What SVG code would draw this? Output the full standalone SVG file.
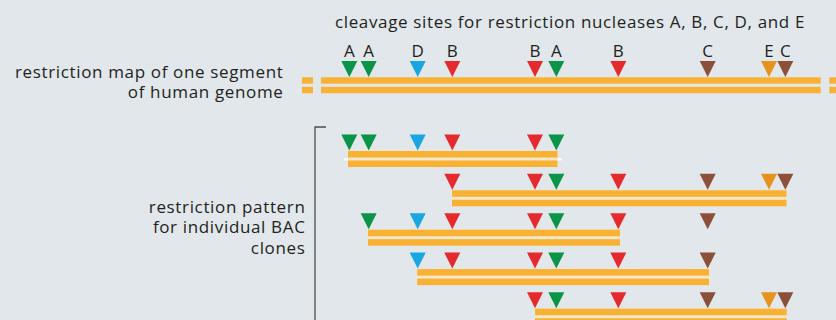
<svg xmlns="http://www.w3.org/2000/svg" xmlns:xlink="http://www.w3.org/1999/xlink" width="836" height="320" viewBox="0 0 836 320">
<style>
text{font-family:"Open Sans","Liberation Sans",sans-serif;fill:#231f20}
.lbl{font-size:17px;letter-spacing:0.65px}
.ltr{font-size:17px;text-anchor:middle}
.bar{fill:#f8b133}
.pale{fill:#f3e7cc}
.g{fill:#0a9447}.b{fill:#19a6e1}.r{fill:#e52a2e}.c{fill:#8b4f3a}.e{fill:#e8921e}
</style>
<defs>
<path id="t" d="M-8,0 H8 L0,16 Z"/>
</defs>
<rect width="836" height="320" fill="#e1e7ea"/>
<g id="title"><text class="lbl" x="570" y="27.5" text-anchor="middle">cleavage sites for restriction nucleases A, B, C, D, and E</text></g>
<g id="label-map"><text class="lbl" x="283.5" y="77.5" text-anchor="end">restriction map of one segment</text><text class="lbl" x="283.5" y="97.5" text-anchor="end">of human genome</text></g>
<g id="label-clones"><text class="lbl" x="305.5" y="212.5" text-anchor="end">restriction pattern</text><text class="lbl" x="305.5" y="233" text-anchor="end">for individual BAC</text><text class="lbl" x="305.5" y="253.5" text-anchor="end">clones</text></g>
<g id="map">
<g id="map-letters">
<text class="ltr" x="349.3" y="57">A</text><text class="ltr" x="368.7" y="57">A</text><text class="ltr" x="417.7" y="57">D</text><text class="ltr" x="452.3" y="57">B</text><text class="ltr" x="535" y="57">B</text><text class="ltr" x="556.3" y="57">A</text><text class="ltr" x="618.3" y="57">B</text><text class="ltr" x="707.7" y="57">C</text><text class="ltr" x="769" y="57">E</text><text class="ltr" x="785.3" y="57">C</text>
</g>
<rect class="bar" x="302" y="77.3" width="11" height="6.4"/><rect class="bar" x="302" y="86.8" width="11" height="6.4"/>
<rect class="bar" x="321" y="77.3" width="499.7" height="6.4"/><rect class="bar" x="321" y="86.8" width="499.7" height="6.4"/>
<rect class="bar" x="829.3" y="77.3" width="8" height="6.4"/><rect class="bar" x="829.3" y="86.8" width="8" height="6.4"/>
<g transform="translate(0,61)">
<use href="#t" x="349.3" class="g"/><use href="#t" x="368.7" class="g"/><use href="#t" x="417.7" class="b"/><use href="#t" x="452.3" class="r"/><use href="#t" x="535" class="r"/><use href="#t" x="556.3" class="g"/><use href="#t" x="618.3" class="r"/><use href="#t" x="707.7" class="c"/><use href="#t" x="769" class="e"/><use href="#t" x="785.3" class="c"/>
</g>
</g>
<g id="connectors"><path d="M326,127 H315 V320" fill="none" stroke="#4d4d4d" stroke-width="1.3"/></g>
<g id="clone1" transform="translate(0,134.5)">
<rect fill="#ffffff" x="344" y="23.7" width="218" height="2.2"/>
<rect class="pale" x="347.5" y="16" width="210.5" height="16.5"/>
<rect class="bar" x="348" y="16.5" width="209.5" height="6.5"/><rect class="bar" x="348" y="26" width="209.5" height="6.5"/>
<use href="#t" x="349.3" class="g"/><use href="#t" x="368.7" class="g"/><use href="#t" x="417.7" class="b"/><use href="#t" x="452.3" class="r"/><use href="#t" x="535" class="r"/><use href="#t" x="556.3" class="g"/>
</g>
<g id="clone2" transform="translate(0,173.8)">
<rect class="pale" x="451.5" y="16" width="335.5" height="16.5"/>
<rect class="bar" x="452" y="16.5" width="334.5" height="6.5"/><rect class="bar" x="452" y="26" width="334.5" height="6.5"/>
<use href="#t" x="452.3" class="r"/><use href="#t" x="535" class="r"/><use href="#t" x="556.3" class="g"/><use href="#t" x="618.3" class="r"/><use href="#t" x="707.7" class="c"/><use href="#t" x="769" class="e"/><use href="#t" x="785.3" class="c"/>
</g>
<g id="clone3" transform="translate(0,213.2)">
<rect class="pale" x="367.5" y="16" width="253" height="16.5"/>
<rect class="bar" x="368" y="16.5" width="252" height="6.5"/><rect class="bar" x="368" y="26" width="252" height="6.5"/>
<use href="#t" x="368.7" class="g"/><use href="#t" x="417.7" class="b"/><use href="#t" x="452.3" class="r"/><use href="#t" x="535" class="r"/><use href="#t" x="556.3" class="g"/><use href="#t" x="618.3" class="r"/><use href="#t" x="707.7" class="c"/>
</g>
<g id="clone4" transform="translate(0,252.6)">
<rect class="pale" x="416.8" y="16" width="292.7" height="16.5"/>
<rect class="bar" x="417.3" y="16.5" width="291.7" height="6.5"/><rect class="bar" x="417.3" y="26" width="291.7" height="6.5"/>
<use href="#t" x="417.7" class="b"/><use href="#t" x="452.3" class="r"/><use href="#t" x="535" class="r"/><use href="#t" x="556.3" class="g"/><use href="#t" x="618.3" class="r"/><use href="#t" x="707.7" class="c"/>
</g>
<g id="clone5" transform="translate(0,292.2)">
<rect class="pale" x="534.5" y="16" width="252.5" height="16.5"/>
<rect class="bar" x="535" y="16.5" width="251.7" height="6.5"/><rect class="bar" x="535" y="26" width="251.7" height="6.5"/>
<use href="#t" x="535" class="r"/><use href="#t" x="556.3" class="g"/><use href="#t" x="618.3" class="r"/><use href="#t" x="707.7" class="c"/><use href="#t" x="769" class="e"/><use href="#t" x="785.3" class="c"/>
</g>
</svg>
